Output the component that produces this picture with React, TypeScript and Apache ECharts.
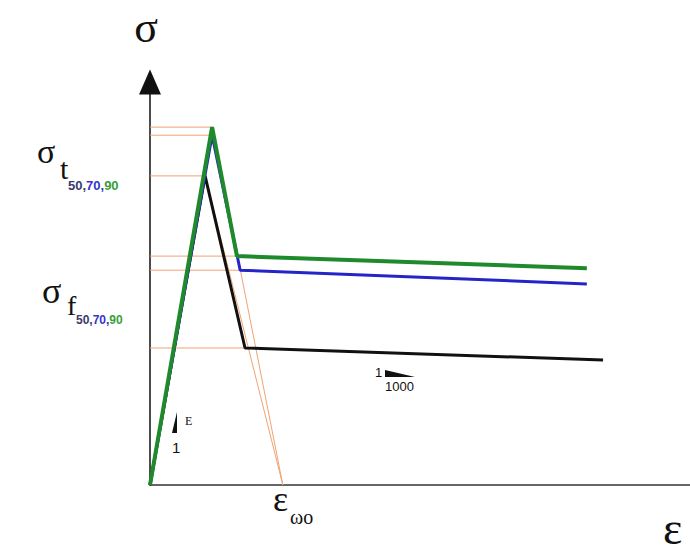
import React, { useEffect, useRef } from 'react';
import * as echarts from 'echarts';

// Strain (x) / stress (y) in arbitrary units
const strainGreen = [0, 1.15, 1.61, 8.09];
const stressGreen = [0, 8.88, 5.68, 5.38];
const strainBlue = [0, 1.15, 1.67, 8.09];
const stressBlue = [0, 8.68, 5.33, 4.99];
const strainBlack = [0, 1.02, 1.76, 8.39];
const stressBlack = [0, 7.67, 3.4, 3.1];
const epsWo = 2.46;
// horizontal guide lines (end strain, stress level)
const guideStrain = [1.15, 1.15, 1.02, 1.61, 1.67, 1.76];
const guideStress = [8.88, 8.68, 7.67, 5.68, 5.33, 3.4];
// softening extension lines start points
const softStrain = [1.15, 1.02];
const softStress = [8.88, 7.67];

const ORANGE = '#f2a273';

export default function App() {
  const ref = useRef<HTMLDivElement>(null);
  useEffect(() => {
    if (!ref.current) return;
    const chart = echarts.init(ref.current, null, { renderer: 'svg' });
    const zip = (xs: number[], ys: number[]) => xs.map((x, i) => [x, ys[i]]);
    const series: any[] = [];
    guideStrain.forEach((e, i) => {
      series.push({
        type: 'line', silent: true, showSymbol: false, z: 1,
        data: [[0, guideStress[i]], [e, guideStress[i]]],
        lineStyle: { color: ORANGE, width: 1 },
      });
    });
    softStrain.forEach((e, i) => {
      series.push({
        type: 'line', silent: true, showSymbol: false, z: 1,
        data: [[e, softStress[i]], [epsWo, 0]],
        lineStyle: { color: ORANGE, width: 1 },
      });
    });
    series.push({
      type: 'line', showSymbol: false, z: 2, data: zip(strainBlack, stressBlack),
      lineStyle: { color: '#111111', width: 3 },
    });
    series.push({
      type: 'line', showSymbol: false, z: 3, data: zip(strainBlue, stressBlue),
      lineStyle: { color: '#2424c8', width: 3 },
    });
    series.push({
      type: 'line', showSymbol: false, z: 4, data: zip(strainGreen, stressGreen),
      lineStyle: { color: '#1f8a2c', width: 4 },
    });

    const serif = '"Liberation Serif", "DejaVu Serif", serif';
    const sans = '"Liberation Sans", Arial, sans-serif';
    const txt = (text: string, x: number, y: number, size: number, family: string, opts: any = {}) => ({
      type: 'text', x, y, silent: true,
      style: {
        text, fill: opts.fill || '#111', font: `${opts.weight || 'normal'} ${size}px ${family}`,
        textAlign: opts.align || 'left', textVerticalAlign: 'middle',
      },
    });
    const subs = (x: number, y: number, size: number) => ({
      type: 'text', x, y, silent: true,
      style: {
        text: '{a|50,}{b|70,}{c|90}',
        textVerticalAlign: 'middle',
        rich: {
          a: { fill: '#3b3b6e', font: `bold ${size}px ${sans}` },
          b: { fill: '#3434cc', font: `bold ${size}px ${sans}` },
          c: { fill: '#3a9e3a', font: `bold ${size}px ${sans}` },
        },
      },
    });

    chart.setOption({
      animation: false,
      backgroundColor: '#ffffff',
      grid: { left: 150, right: 0, top: 82, bottom: 69 },
      xAxis: {
        type: 'value', min: 0, max: 10,
        axisLine: { show: true, lineStyle: { color: '#333', width: 1.5 } },
        axisTick: { show: false }, axisLabel: { show: false }, splitLine: { show: false },
      },
      yAxis: {
        type: 'value', min: 0, max: 10,
        axisLine: { show: true, symbol: ['none', 'triangle'], symbolSize: [22, 25], lineStyle: { color: '#111', width: 1.5 } },
        axisTick: { show: false }, axisLabel: { show: false }, splitLine: { show: false },
      },
      series,
      graphic: [
        txt('σ', 146, 27, 44, serif, { align: 'center' }),
        txt('σ', 37, 151, 34, serif),
        txt('t', 60, 168, 30, serif),
        subs(68, 185, 13),
        txt('σ', 42, 291, 36, serif),
        txt('f', 67, 305, 28, serif),
        subs(76, 320, 12),
        txt('ε', 273, 499, 36, serif),
        txt('ωo', 290, 517, 20, serif),
        txt('ε', 663, 528, 46, serif),
        txt('E', 185, 421, 12, serif),
        txt('1', 172, 447, 15, sans),
        txt('1', 375, 372, 13, sans),
        txt('1000', 385, 386, 13, sans),
        { type: 'polygon', silent: true, shape: { points: [[177, 412], [172, 433], [177, 433]] }, style: { fill: '#111' } },
        { type: 'polygon', silent: true, shape: { points: [[385, 370], [385, 377], [415, 377]] }, style: { fill: '#111' } },
      ],
    });
    return () => chart.dispose();
  }, []);
  return <div ref={ref} style={{ position: 'absolute', left: 0, top: 0, width: 690, height: 554, background: '#fff' }} />;
}
